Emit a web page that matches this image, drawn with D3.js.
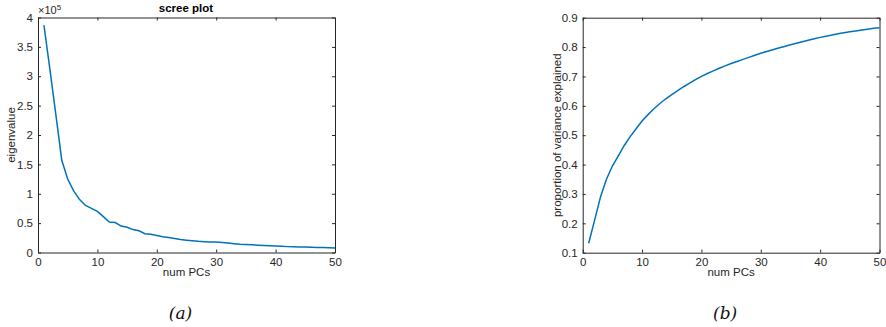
<!DOCTYPE html>
<html>
<head>
<meta charset="utf-8">
<script src="https://cdn.jsdelivr.net/npm/d3@7"></script>
<style>
  body { margin: 0; background: #fff; }
  text { font-family: "Liberation Sans", Arial, Helvetica, sans-serif; }
</style>
</head>
<body>
<svg id="chart" width="886" height="327"></svg>
<script>
// number of principal components on the x axis
const numPCs = d3.range(1, 51);

// eigenvalues
const eigenvalues = [
  387000, 312000, 235000, 157000, 125000, 105000, 90000, 80000, 75000, 70000,
  61000, 52000, 51000, 45000, 43000, 39000, 37000, 32000, 31000, 29000,
  27000, 25500, 24000, 22000, 21000, 20000, 19000, 18500, 18000, 17800,
  17000, 16000, 15000, 14000, 13500, 13000, 12500, 12000, 11500, 11000,
  10500, 10000, 9800, 9500, 9200, 8800, 8500, 8300, 8000, 7800
];

// cumulative proportion of variance explained
const propExplained = [
  0.132, 0.21, 0.29, 0.35, 0.395, 0.43, 0.465, 0.495, 0.522, 0.548,
  0.57, 0.59, 0.608, 0.624, 0.638, 0.652, 0.665, 0.677, 0.689, 0.70,
  0.71, 0.719, 0.728, 0.736, 0.744, 0.751, 0.758, 0.765, 0.772, 0.779,
  0.785, 0.791, 0.797, 0.802, 0.808, 0.813, 0.818, 0.823, 0.828, 0.833,
  0.837, 0.841, 0.845, 0.849, 0.852, 0.855, 0.858, 0.861, 0.864, 0.866
];

const xTicks = [0, 10, 20, 30, 40, 50];
const eigTicks = [0, 0.5e5, 1e5, 1.5e5, 2e5, 2.5e5, 3e5, 3.5e5, 4e5];
const propTicks = [0.1, 0.2, 0.3, 0.4, 0.5, 0.6, 0.7, 0.8, 0.9];

const axisColor = "#262626";
const lineColor = "#0072BD";

const svg = d3.select("#chart");

// draws one MATLAB style panel: boxed axes with ticks on all four sides
function panel(opts) {
  const { left, right, top, bottom } = opts;
  const x = d3.scaleLinear().domain([0, 50]).range([left, right]);
  const y = d3.scaleLinear().domain(opts.yDomain).range([bottom, top]);
  const g = svg.append("g");

  const styleAxis = sel => {
    sel.select(".domain").attr("stroke", axisColor).attr("stroke-width", 1);
    sel.selectAll(".tick line").attr("stroke", axisColor);
    sel.selectAll(".tick text")
      .attr("fill", axisColor)
      .style("font-size", "11.5px");
  };

  g.append("g")
    .attr("transform", `translate(0,${bottom})`)
    .call(d3.axisBottom(x).tickValues(xTicks).tickSizeInner(-3).tickSizeOuter(0).tickPadding(5))
    .call(styleAxis);
  g.append("g")
    .attr("transform", `translate(0,${top})`)
    .call(d3.axisTop(x).tickValues(xTicks).tickSizeInner(-3).tickSizeOuter(0).tickFormat(""))
    .call(styleAxis);
  g.append("g")
    .attr("transform", `translate(${left},0)`)
    .call(d3.axisLeft(y).tickValues(opts.yTicks).tickSizeInner(-3).tickSizeOuter(0)
      .tickPadding(5).tickFormat(opts.yFormat))
    .call(styleAxis);
  g.append("g")
    .attr("transform", `translate(${right},0)`)
    .call(d3.axisRight(y).tickValues(opts.yTicks).tickSizeInner(-3).tickSizeOuter(0).tickFormat(""))
    .call(styleAxis);

  g.append("path")
    .datum(opts.values)
    .attr("fill", "none")
    .attr("stroke", lineColor)
    .attr("stroke-width", 1.5)
    .attr("d", d3.line().x((d, i) => x(numPCs[i])).y(d => y(d)));

  // axis labels
  g.append("text")
    .attr("x", (left + right) / 2)
    .attr("y", bottom + 23)
    .attr("text-anchor", "middle")
    .attr("fill", axisColor)
    .style("font-size", "11.5px")
    .text("num PCs");
  g.append("text")
    .attr("transform", `translate(${opts.yLabelX},${(top + bottom) / 2}) rotate(-90)`)
    .attr("text-anchor", "middle")
    .attr("fill", axisColor)
    .style("font-size", "11.5px")
    .text(opts.yLabel);

  // sub-figure caption
  svg.append("text")
    .attr("x", (left + right) / 2 - 6)
    .attr("y", 319)
    .attr("text-anchor", "middle")
    .style("font-family", "'DejaVu Serif', 'Liberation Serif', serif")
    .style("font-style", "italic")
    .style("font-size", "17px")
    .attr("fill", "#111")
    .text(opts.caption);

  return g;
}

const left = panel({
  left: 38, right: 335, top: 17.5, bottom: 252.5,
  yDomain: [0, 4e5], yTicks: eigTicks,
  yFormat: d => d3.format("~g")(d / 1e5),
  values: eigenvalues,
  yLabel: "eigenvalue", yLabelX: 15,
  caption: "(a)"
});

left.append("text")
  .attr("x", 186)
  .attr("y", 12)
  .attr("text-anchor", "middle")
  .attr("fill", "#000")
  .style("font-size", "11.5px")
  .style("font-weight", "bold")
  .text("scree plot");

// exponent marker above the eigenvalue axis
const expo = left.append("text")
  .attr("x", 38)
  .attr("y", 14)
  .attr("fill", axisColor)
  .style("font-size", "11px");
expo.append("tspan").text("\u00d710");
expo.append("tspan").attr("dy", -4).style("font-size", "8px").text("5");

panel({
  left: 582.7, right: 879.5, top: 17.7, bottom: 252.7,
  yDomain: [0.1, 0.9], yTicks: propTicks,
  yFormat: d3.format(".1f"),
  values: propExplained,
  yLabel: "proportion of variance explained", yLabelX: 561,
  caption: "(b)"
});
</script>
</body>
</html>
